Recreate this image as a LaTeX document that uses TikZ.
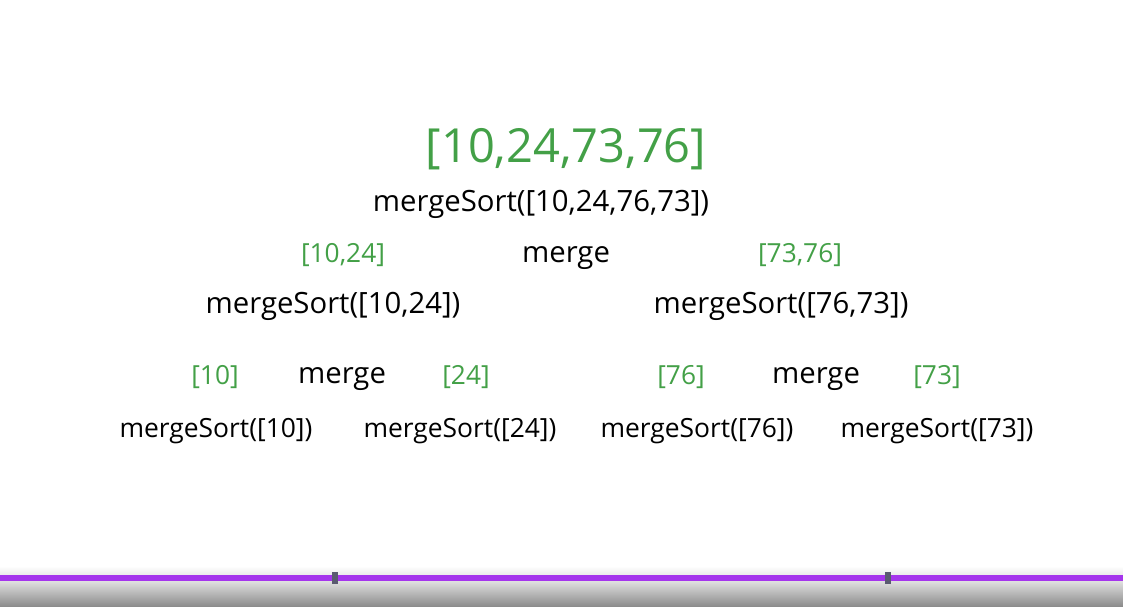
\documentclass[tikz,border=0pt]{standalone}
\usepackage{fontspec}
\setmainfont{Open Sans}
\usepackage{xcolor}
\usetikzlibrary{positioning}

\definecolor{sortgreen}{HTML}{43A047}
\definecolor{barpurple}{HTML}{A535EC}
\definecolor{knobgray}{HTML}{5A5A70}

\begin{document}
\begin{tikzpicture}[x=1pt,y=-1pt,
  call/.style={font=\fontsize{29.3}{34}\selectfont,inner sep=0pt,anchor=base,text=black},
  leaf/.style={font=\fontsize{26.4}{31}\selectfont,inner sep=0pt,anchor=base,text=black},
  result/.style={font=\fontsize{26.3}{31}\selectfont,inner sep=0pt,anchor=base,text=sortgreen},
  final/.style={font=\fontsize{47}{54}\selectfont,inner sep=0pt,anchor=base,text=sortgreen}]
  \useasboundingbox (0,0) rectangle (1123,606);

  % top level
  \node[final] (sorted) at (566,162) {[10,24,73,76]};
  \node[call] (root) at (541,211) {mergeSort([10,24,76,73])};

  % second level
  \node[result] (left) at (343,262) {[10,24]};
  \node[call] (mergeA) at (566,262) {merge};
  \node[result] (right) at (800,262) {[73,76]};
  \node[call] (callL) at (333,313) {mergeSort([10,24])};
  \node[call] (callR) at (781,313) {mergeSort([76,73])};

  % third level
  \node[result] (r10) at (215,384) {[10]};
  \node[call] (mergeB) at (342,383) {merge};
  \node[result] (r24) at (466,384) {[24]};
  \node[result] (r76) at (681,384) {[76]};
  \node[call] (mergeC) at (816,383) {merge};
  \node[result] (r73) at (937,384) {[73]};

  % leaves
  \node[leaf] (c10) at (216,437) {mergeSort([10])};
  \node[leaf] (c24) at (460,437) {mergeSort([24])};
  \node[leaf] (c76) at (697,437) {mergeSort([76])};
  \node[leaf] (c73) at (937,437) {mergeSort([73])};

  % player bar
  \shade[top color=white,bottom color=black!8] (0,566) rectangle (1123,575);
  \shade[top color=black!12,bottom color=black!45] (0,581) rectangle (1123,606);
  \fill[barpurple] (0,575) rectangle (1123,581);
  \fill[knobgray] (332,572) rectangle (338,584);
  \fill[knobgray] (885,572) rectangle (891,584);
\end{tikzpicture}
\end{document}
